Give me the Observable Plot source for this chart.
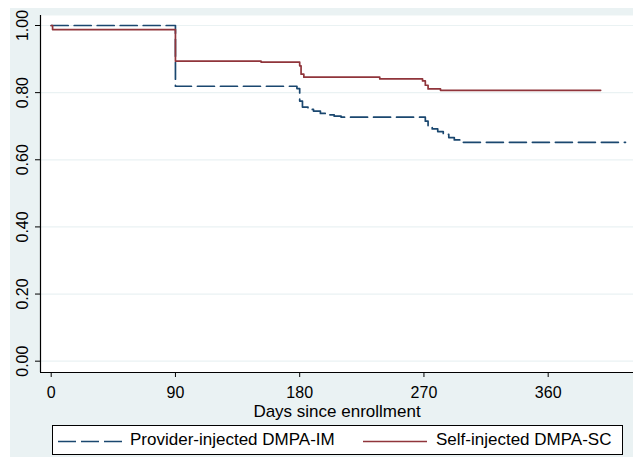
<!DOCTYPE html>
<html>
<head>
<meta charset="utf-8">
<script src="https://cdn.jsdelivr.net/npm/d3@7"></script>
<script src="https://cdn.jsdelivr.net/npm/@observablehq/plot@0.6"></script>
<style>
  html, body { margin: 0; padding: 0; background: #ffffff; }
  #wrap { position: relative; width: 633px; height: 457px; overflow: hidden; background: #ffffff;
          font-family: "Liberation Sans", Arial, sans-serif; }
  #bg { position: absolute; left: 10px; top: 8px; right: 0; bottom: 0; background: #eaf2f3; }
  #chart { position: absolute; left: 0; top: 0; }
  #legend { position: absolute; left: 52px; top: 425px; width: 571px; height: 30px; box-sizing: border-box;
            border: 1.5px solid #000; background: #ffffff; font-size: 17px; color: #000; }
  #legend svg { position: absolute; top: 0; }
  #legend span { position: absolute; top: 4px; white-space: nowrap; line-height: 19px; }
</style>
</head>
<body>
<div id="wrap">
  <div id="bg"></div>
  <div id="chart"></div>
  <div id="legend"></div>
</div>
<script>
// ---- Data ----
const seriesNames = ["Provider-injected DMPA-IM", "Self-injected DMPA-SC"];
const seriesColors = ["#1a476f", "#90353b"];

// Provider-injected DMPA-IM (dashed navy) — Kaplan-Meier steps
const imDays = [0, 90, 178, 180, 182, 186, 190, 195, 200, 205, 210, 271, 273, 276, 280, 284, 288, 292, 296, 416];
const imSurv = [1.000, 0.819, 0.812, 0.775, 0.757, 0.750, 0.745, 0.738, 0.734, 0.730, 0.727, 0.715, 0.700, 0.692, 0.684, 0.676, 0.666, 0.659, 0.652, 0.652];

// Self-injected DMPA-SC (solid maroon)
const scDays = [0, 1, 90, 152, 180, 181, 183, 238, 269, 271, 273, 282, 398];
const scSurv = [1.000, 0.988, 0.894, 0.891, 0.880, 0.855, 0.846, 0.841, 0.835, 0.822, 0.811, 0.807, 0.807];

const xTicks = [0, 90, 180, 270, 360];
const yTicks = [0, 0.2, 0.4, 0.6, 0.8, 1.0];
const xLabel = "Days since enrollment";

const xDomain = [-7.75, 421.8];
const yDomain = [-0.0337, 1.0298];

const im = imDays.map((d, i) => ({day: d, surv: imSurv[i]}));
const sc = scDays.map((d, i) => ({day: d, surv: scSurv[i]}));

const chart = Plot.plot({
  width: 633,
  height: 420,
  marginLeft: 40,
  marginRight: 0,
  marginTop: 15,
  marginBottom: 48,
  style: {background: "transparent", fontFamily: "Liberation Sans, Arial, sans-serif", fontSize: "16px", color: "#000"},
  x: {domain: xDomain},
  y: {domain: yDomain},
  marks: [
    Plot.frame({fill: "#ffffff", stroke: null}),
    Plot.gridY(yTicks, {stroke: "#eaf2f3", strokeOpacity: 1, strokeWidth: 1.2}),
    Plot.line(im, {x: "day", y: "surv", curve: "step-after", stroke: seriesColors[0], strokeWidth: 1.7, strokeDasharray: "17,6"}),
    Plot.line(sc, {x: "day", y: "surv", curve: "step-after", stroke: seriesColors[1], strokeWidth: 1.7}),
    Plot.ruleX([xDomain[0]], {stroke: "#000", strokeWidth: 1.2}),
    Plot.ruleY([yDomain[0]], {stroke: "#000", strokeWidth: 1.2}),
    Plot.axisX(xTicks, {tickSize: 5, tickPadding: 9, label: null, tickFormat: d3.format("d"), fontSize: 16}),
    Plot.text([xLabel], {frameAnchor: "bottom", dy: 44, fontSize: 17, fill: "#000", lineAnchor: "bottom"}),
    Plot.axisY(yTicks, {tickSize: 5, tickPadding: 8, tickRotate: -90, label: null, tickFormat: d3.format(".2f"), fontSize: 16})
  ]
});
document.getElementById("chart").appendChild(chart);

// ---- Legend (HTML below the SVG) ----
const legend = document.getElementById("legend");
const itemPos = [{sample: 5, text: 77}, {sample: 310, text: 383}];
seriesNames.forEach((name, i) => {
  const s = document.createElementNS("http://www.w3.org/2000/svg", "svg");
  s.setAttribute("width", 66); s.setAttribute("height", 27);
  s.style.left = itemPos[i].sample + "px";
  const l = document.createElementNS("http://www.w3.org/2000/svg", "line");
  l.setAttribute("x1", 0); l.setAttribute("x2", 64); l.setAttribute("y1", 15.5); l.setAttribute("y2", 15.5);
  l.setAttribute("stroke", seriesColors[i]); l.setAttribute("stroke-width", 1.7);
  if (i === 0) l.setAttribute("stroke-dasharray", "18,5");
  s.appendChild(l);
  legend.appendChild(s);
  const t = document.createElement("span");
  t.textContent = name;
  t.style.left = itemPos[i].text + "px";
  legend.appendChild(t);
});
</script>
</body>
</html>
